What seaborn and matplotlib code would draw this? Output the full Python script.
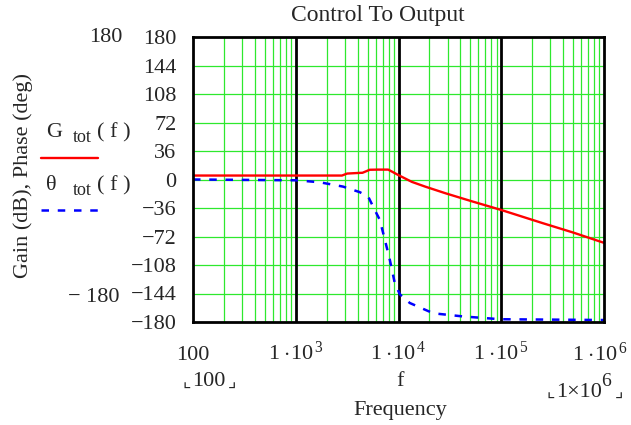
import numpy as np
import matplotlib
matplotlib.use("Agg")
import matplotlib.pyplot as plt
import seaborn as sns
import pandas as pd
from matplotlib.lines import Line2D

# Data (log10 of frequency, value)
gain_logf = [2.0, 3.0, 3.45, 3.5, 3.6, 3.65, 3.72, 3.8, 3.9, 4.0, 4.13, 4.26,
             4.46, 4.7, 5.0, 5.4, 5.7, 6.0]
gain_db = [5, 5, 5, 7.5, 8.2, 8.5, 12.3, 12.5, 12.5, 5.5, -3, -9,
           -17.5, -27, -38.5, -55, -67, -80]

phase_logf = [2.0, 3.006, 3.234, 3.461, 3.623, 3.705, 3.769, 3.818, 3.867,
              3.916, 3.964, 4.013, 4.11, 4.338, 4.63, 4.99, 6.0]
phase_deg = [0, -1, -3.5, -9, -16, -21.6, -38.5, -51, -76,
             -101.7, -131, -145, -156, -169, -173, -176.5, -177.5]

y_ticks = [180, 144, 108, 72, 36, 0, -36, -72, -108, -144, -180]
x_ticks = [1e2, 1e3, 1e4, 1e5, 1e6]
x_labels = ["100", r"$1\;{\cdot}10^{\,3}$", r"$1\;{\cdot}10^{\,4}$",
            r"$1\;{\cdot}10^{\,5}$", r"$1\;{\cdot}10^{\,6}$"]

sns.set_style("white")
serif = ["Liberation Serif", "DejaVu Serif"]
plt.rcParams["font.family"] = serif
plt.rcParams["mathtext.fontset"] = "custom"
plt.rcParams["mathtext.rm"] = "Liberation Serif"
plt.rcParams["mathtext.it"] = "Liberation Serif"
plt.rcParams["mathtext.bf"] = "Liberation Serif"

FS = 16
W, H = 631, 425
fig = plt.figure(figsize=(W / 100, H / 100), dpi=100)
ax = fig.add_axes([193 / W, 1 - 322 / H, (604 - 193) / W, (322 - 37) / H])

gain_df = pd.DataFrame({"f": np.power(10.0, gain_logf), "v": gain_db})
phase_df = pd.DataFrame({"f": np.power(10.0, phase_logf), "v": phase_deg})

ax.set_xscale("log")
ax.set_xlim(1e2, 1e6)
ax.set_ylim(-180, 180)

# grid
green = "#2ee82e"
for k in range(2, 6):
    for m in range(2, 10):
        ax.axvline(m * 10 ** k, color=green, lw=0.9, zorder=1)
for yv in y_ticks[1:-1]:
    ax.axhline(yv, color=green, lw=0.9, zorder=1)
for xv in [1e3, 1e4, 1e5]:
    ax.axvline(xv, color="black", lw=2.0, zorder=2)

sns.lineplot(data=gain_df, x="f", y="v", ax=ax, color="#ff0000", lw=1.7,
             zorder=4, estimator=None, sort=False)
sns.lineplot(data=phase_df, x="f", y="v", ax=ax, color="#0000ff", lw=1.8,
             linestyle=(0, (3, 3.5)), zorder=4, estimator=None, sort=False)

for s in ax.spines.values():
    s.set_visible(True)
    s.set_color("black")
    s.set_linewidth(2.0)
    s.set_zorder(5)

ax.set_yticks(y_ticks)
ax.set_yticklabels([str(v).replace("-", "\u2212") for v in y_ticks], fontsize=FS)
ax.set_xticks(x_ticks)
# last label sits against the right edge, drawn separately below
ax.set_xticklabels(x_labels[:-1] + [""], fontsize=FS)
for lbl in ax.get_xticklabels():
    lbl.set_verticalalignment("baseline")
ax.minorticks_off()
ax.tick_params(axis="y", length=0, pad=12)
ax.tick_params(axis="x", length=0, pad=27)
ax.set_xlabel("")
ax.set_ylabel("")


def ptext(x, y, s, **kw):
    kw.setdefault("fontsize", FS)
    kw.setdefault("va", "center")
    kw.setdefault("ha", "center")
    fig.text(x / W, 1 - y / H, s, **kw)


corner = ["DejaVu Sans"]
ptext(378, 15, "Control To Output", fontsize=17)
ptext(122, 37, "180", ha="right")
ptext(120, 298, "\u2212 180", ha="right")
ptext(23, 175, "Gain (dB), Phase (deg)", rotation=90)
ptext(628, 361, x_labels[-1], ha="right", va="baseline")

# legend
ptext(46, 137, "G", ha="left", va="baseline")
ptext(73, 142, "tot", ha="left", va="baseline", fontsize=13)
ptext(97, 137, "( f )", ha="left", va="baseline")
ptext(46, 190, "\u03b8", ha="left", va="baseline")
ptext(73, 195, "tot", ha="left", va="baseline", fontsize=13)
ptext(97, 190, "( f )", ha="left", va="baseline")
fig.add_artist(Line2D([41 / W, 98 / W], [1 - 158 / H, 1 - 158 / H],
                      color="#ff0000", lw=1.7))
fig.add_artist(Line2D([41 / W, 98 / W], [1 - 210 / H, 1 - 210 / H],
                      color="#0000ff", lw=1.8, linestyle=(0, (3, 3.5))))

# range markers under the axis
ptext(182, 387, "\u231e", ha="left", va="baseline", family=corner, fontsize=13)
ptext(209, 386, "100", va="baseline")
ptext(236, 387, "\u231f", ha="right", va="baseline", family=corner, fontsize=13)
ptext(400, 386, "f", va="baseline")
ptext(546, 397, "\u231e", ha="left", va="baseline", family=corner, fontsize=13)
ptext(556, 397, "1\u00d710", ha="left", va="baseline")
ptext(601, 386, "6", ha="left", va="baseline", fontsize=14)
ptext(623, 397, "\u231f", ha="right", va="baseline", family=corner, fontsize=13)
ptext(400, 410, "Frequency")

fig.savefig("out.png", dpi=100)
